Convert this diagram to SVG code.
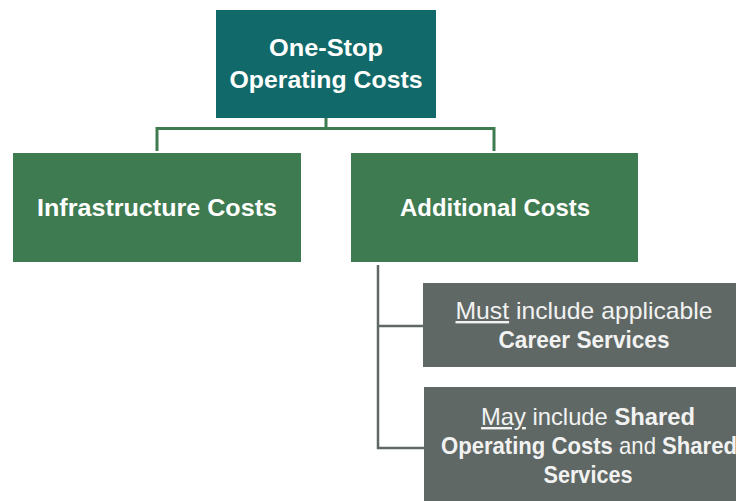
<svg xmlns="http://www.w3.org/2000/svg" width="736" height="501" viewBox="0 0 736 501">
<style>
  text { font-family: "Liberation Sans", Arial, sans-serif; font-size: 24px; text-anchor: middle; fill: #FFFFFF; }
  .b { font-weight: bold; }
  .lt { fill: #F2F2F2; }
  .u { text-decoration: underline; }
  .teal { fill: #116A69; }
  .green { fill: #3F7B51; }
  .gray { fill: #5F6865; }
  .gl { stroke: #3F7B51; stroke-width: 3; fill: none; }
  .yl { stroke: #5F6865; stroke-width: 2.5; fill: none; }
</style>
<rect width="736" height="501" fill="#FFFFFF"/>
<g id="connectors">
  <path class="gl" d="M326 118 V128.5 M157 128.5 H494 M157 127 V151 M494 127 V151"/>
  <path class="yl" d="M378 265 V448 H424 M378 326 H423"/>
</g>
<g id="node-onestop">
  <rect class="teal" x="216" y="10" width="220" height="108"/>
  <text class="b" x="326" y="56" textLength="114" lengthAdjust="spacingAndGlyphs">One-Stop</text>
  <text class="b" x="326" y="88" textLength="193" lengthAdjust="spacingAndGlyphs">Operating Costs</text>
</g>
<g id="node-infrastructure">
  <rect class="green" x="13" y="153" width="288" height="109"/>
  <text class="b" x="157" y="216" textLength="240" lengthAdjust="spacingAndGlyphs">Infrastructure Costs</text>
</g>
<g id="node-additional">
  <rect class="green" x="351" y="153" width="287" height="109"/>
  <text class="b" x="495" y="216" textLength="190" lengthAdjust="spacingAndGlyphs">Additional Costs</text>
</g>
<g id="node-must">
  <rect class="gray" x="423" y="283" width="322" height="84"/>
  <text class="lt" x="584" y="319" textLength="257" lengthAdjust="spacingAndGlyphs"><tspan class="u">Must</tspan> include applicable</text>
  <text class="lt b" x="584" y="348" textLength="171" lengthAdjust="spacingAndGlyphs">Career Services</text>
</g>
<g id="node-may">
  <rect class="gray" x="424" y="387" width="328" height="114"/>
  <text class="lt" x="588" y="425" textLength="214" lengthAdjust="spacingAndGlyphs"><tspan class="u">May</tspan> include <tspan class="b">Shared</tspan></text>
  <text class="lt" x="589" y="454" textLength="296" lengthAdjust="spacingAndGlyphs"><tspan class="b">Operating Costs</tspan> and <tspan class="b">Shared</tspan></text>
  <text class="lt b" x="588" y="483" textLength="89" lengthAdjust="spacingAndGlyphs">Services</text>
</g>
</svg>
